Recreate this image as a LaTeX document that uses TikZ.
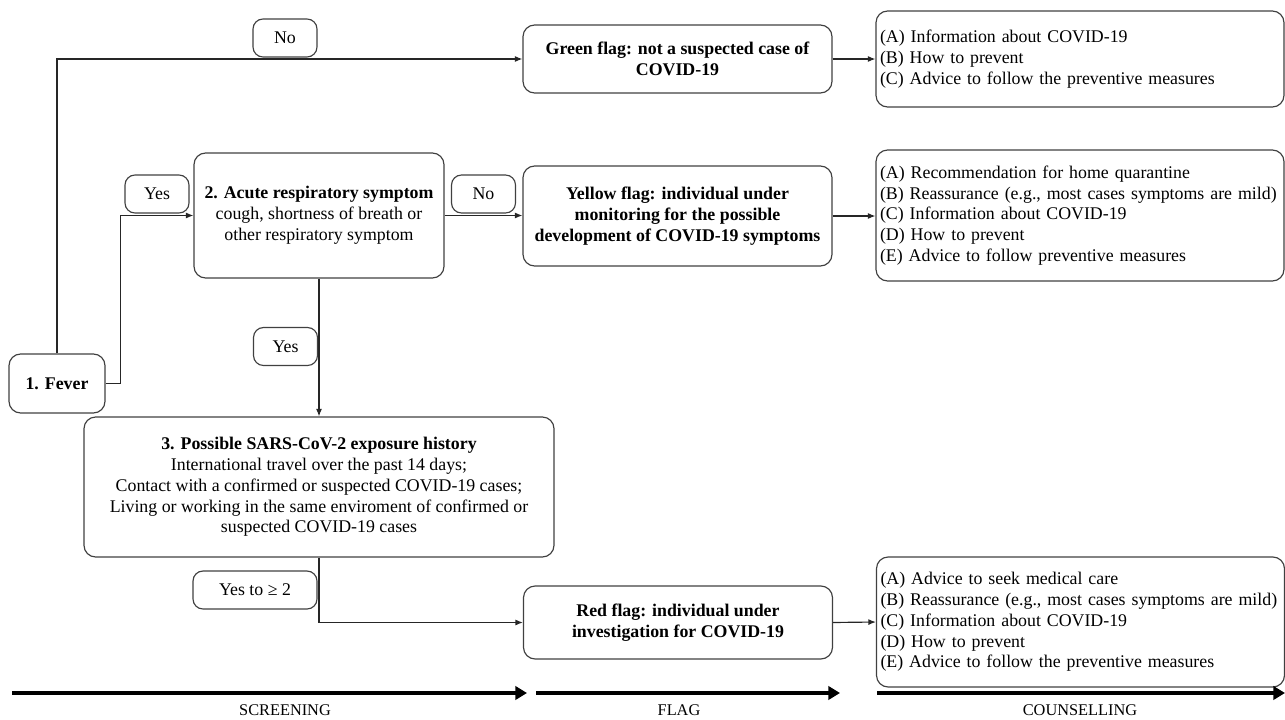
\documentclass[tikz,border=0pt]{standalone}
\usepackage{fontspec}
\setmainfont{Liberation Serif}
\usetikzlibrary{arrows.meta}

\begin{document}
\begin{tikzpicture}[
  x=0.6pt, y=-0.6pt,
  every node/.style={font=\fontsize{10.7}{12.5}\selectfont},
  box/.style={draw=black!75, line width=0.7pt, rounded corners=7pt, align=center, inner sep=2pt},
  flag/.style={box, font=\fontsize{10.7}{12.5}\selectfont\bfseries, minimum width=185.4pt},
  advice/.style={box, align=left, text width=240pt, inner xsep=2.4pt},
  answer/.style={box, rounded corners=6pt, minimum width=38.4pt, minimum height=22.8pt},
  conn/.style={draw=black!85, line width=0.7pt, -{Latex[length=4.5pt,width=3.6pt]}},
  phase/.style={line width=2.4pt, -{Triangle[length=7pt,width=8pt]}},
  phaselabel/.style={font=\fontsize{9.8}{11}\selectfont, inner sep=0pt},
]
\useasboundingbox (0,0) rectangle (1285,720);

\node (fever) [box, font=\fontsize{10.7}{12.5}\selectfont\bfseries, minimum width=57.6pt, minimum height=35.4pt] at (57, 383.5) {1. Fever};
\node (acute) [box, minimum width=150pt, minimum height=75pt] at (319, 215.5)
  {\textbf{2. Acute respiratory symptom}\\cough, shortness of breath or\\other respiratory symptom};
\node (exposure) [box, minimum width=282pt, minimum height=84pt] at (319, 487)
  {\textbf{3. Possible SARS-CoV-2 exposure history}\\International travel over the past 14 days;\\
   Contact with a confirmed or suspected COVID-19 cases;\\
   Living or working in the same enviroment of confirmed or\\suspected COVID-19 cases};

\node (green) [flag, minimum height=40.8pt] at (677.5, 59) {Green flag: not a suspected case of\\COVID-19};
\node (yellow) [flag, minimum height=60pt] at (677.5, 216)
  {Yellow flag: individual under\\monitoring for the possible\\development of COVID-19 symptoms};
\node (red) [flag, minimum height=43.8pt] at (678, 622.5) {Red flag: individual under\\investigation for COVID-19};

\node (adv1) [advice, minimum height=57.6pt] at (1080, 59)
  {(A) Information about COVID-19\\(B) How to prevent\\(C) Advice to follow the preventive measures};
\node (adv2) [advice, minimum height=78.6pt] at (1080, 215.5)
  {(A) Recommendation for home quarantine\\(B) Reassurance (e.g., most cases symptoms are mild)\\
   (C) Information about COVID-19\\(D) How to prevent\\(E) Advice to follow preventive measures};
\node (adv3) [advice, minimum height=78pt] at (1080.5, 622)
  {(A) Advice to seek medical care\\(B) Reassurance (e.g., most cases symptoms are mild)\\
   (C) Information about COVID-19\\(D) How to prevent\\(E) Advice to follow the preventive measures};

\node (no1) [answer] at (285, 38) {No};
\node (yes1) [answer] at (157, 194) {Yes};
\node (no2) [answer] at (483.5, 194) {No};
\node (yes2) [answer] at (285.5, 346.5) {Yes};
\node (yes3) [answer, minimum width=74.4pt] at (255, 590) {Yes to ≥ 2};

\draw[conn] (fever.north) |- (green.west);
\draw[conn] (fever.east) -- ++(15,0) |- (acute.west);
\draw[conn] (acute.east) -- (acute.east -| yellow.west);
\draw[conn] (acute.south) -- (exposure.north);
\draw[conn] (exposure.south) |- (red.west);
\draw[conn] (green.east) -- (adv1.west);
\draw[conn] (yellow.east) -- (yellow.east -| adv2.west);
\draw[conn] (red.east) -- (adv3.west);

\foreach \i/\xa/\xb/\xl/\txt in {1/12/527/285/SCREENING, 2/536/840/679/FLAG, 3/877/1285/1080/COUNSELLING} {
  \coordinate (ph\i a) at (\xa, 693);
  \coordinate (ph\i b) at (\xb, 693);
  \draw[phase] (ph\i a) -- (ph\i b);
  \node (ph\i) [phaselabel] at (\xl, 710) {\txt};
}

\end{tikzpicture}
\end{document}
